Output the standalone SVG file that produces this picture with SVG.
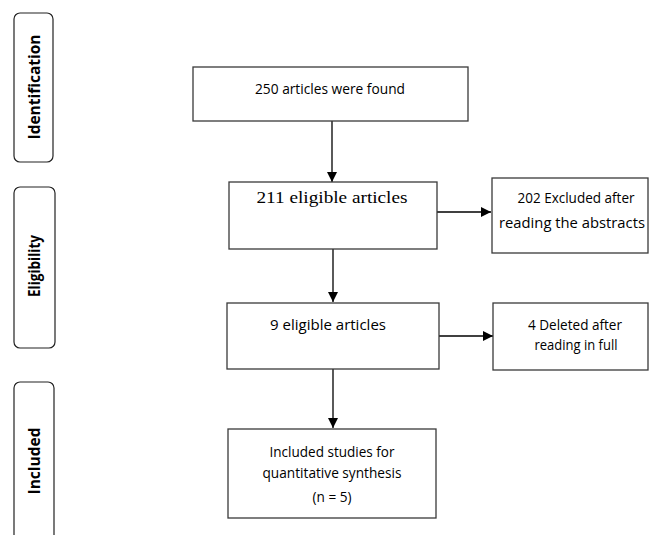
<svg xmlns="http://www.w3.org/2000/svg" width="651" height="535" viewBox="0 0 651 535">
<style>
.box{fill:#fff;stroke:#3a3a3a;stroke-width:1.3}
.side{fill:#fff;stroke:#222;stroke-width:1.2}
.lbl{font-family:"Open Sans","Liberation Sans",sans-serif;font-size:16px;font-weight:bold;fill:#000;text-anchor:middle}
.t{font-family:"Open Sans","Liberation Sans",sans-serif;font-size:15px;fill:#000;text-anchor:middle}
.ts{font-family:"Liberation Serif",serif;font-size:16px;fill:#000;text-anchor:middle}
.conn{stroke:#000;stroke-width:1.3;fill:none;marker-end:url(#ah)}
</style>
<defs>
<marker id="ah" viewBox="0 0 10 10" refX="10" refY="5" markerWidth="10" markerHeight="10" markerUnits="userSpaceOnUse" orient="auto">
<path d="M0,0 L10,5 L0,10 z" fill="#000"/>
</marker>
</defs>
<rect width="651" height="535" fill="#fff"/>
<g id="side-identification">
<rect class="side" x="14" y="13" width="39" height="149" rx="6"/>
<text class="lbl" transform="translate(40,87) rotate(-90)" textLength="105" lengthAdjust="spacingAndGlyphs">Identification</text>
</g>
<g id="side-eligibility">
<rect class="side" x="14" y="187" width="41" height="161" rx="6"/>
<text class="lbl" transform="translate(40,266) rotate(-90)" textLength="62" lengthAdjust="spacingAndGlyphs">Eligibility</text>
</g>
<g id="side-included">
<rect class="side" x="14" y="382" width="40" height="170" rx="6"/>
<text class="lbl" transform="translate(40,461) rotate(-90)" textLength="67" lengthAdjust="spacingAndGlyphs">Included</text>
</g>
<g id="connectors">
<line class="conn" x1="332" y1="121" x2="332" y2="182"/>
<line class="conn" x1="333" y1="249" x2="333" y2="302"/>
<line class="conn" x1="333" y1="369" x2="333" y2="428"/>
<line class="conn" x1="437" y1="212" x2="491" y2="212"/>
<line class="conn" x1="439" y1="336" x2="493" y2="336"/>
</g>
<g id="n1">
<rect class="box" x="193" y="67" width="275" height="54"/>
<text class="t" x="330" y="94" textLength="150" lengthAdjust="spacingAndGlyphs">250 articles were found</text>
</g>
<g id="n2">
<rect class="box" x="229" y="182" width="208" height="67"/>
<text class="ts" x="332" y="203" textLength="151" lengthAdjust="spacingAndGlyphs">211 eligible articles</text>
</g>
<g id="n3">
<rect class="box" x="492" y="178" width="156" height="75"/>
<text class="t" x="576" y="203" textLength="117" lengthAdjust="spacingAndGlyphs">202 Excluded after</text>
<text class="t" x="572" y="228" textLength="146" lengthAdjust="spacingAndGlyphs">reading the abstracts</text>
</g>
<g id="n4">
<rect class="box" x="227" y="303" width="212" height="66"/>
<text class="t" x="328" y="330" textLength="116" lengthAdjust="spacingAndGlyphs">9 eligible articles</text>
</g>
<g id="n5">
<rect class="box" x="493" y="303" width="155" height="67"/>
<text class="t" x="575" y="330" textLength="94" lengthAdjust="spacingAndGlyphs">4 Deleted after</text>
<text class="t" x="576" y="350" textLength="83" lengthAdjust="spacingAndGlyphs">reading in full</text>
</g>
<g id="n6">
<rect class="box" x="228" y="429" width="208" height="89"/>
<text class="t" x="332" y="457" textLength="125" lengthAdjust="spacingAndGlyphs">Included studies for</text>
<text class="t" x="332" y="478" textLength="139" lengthAdjust="spacingAndGlyphs">quantitative synthesis</text>
<text class="t" x="332" y="502" textLength="39" lengthAdjust="spacingAndGlyphs">(n = 5)</text>
</g>
</svg>
